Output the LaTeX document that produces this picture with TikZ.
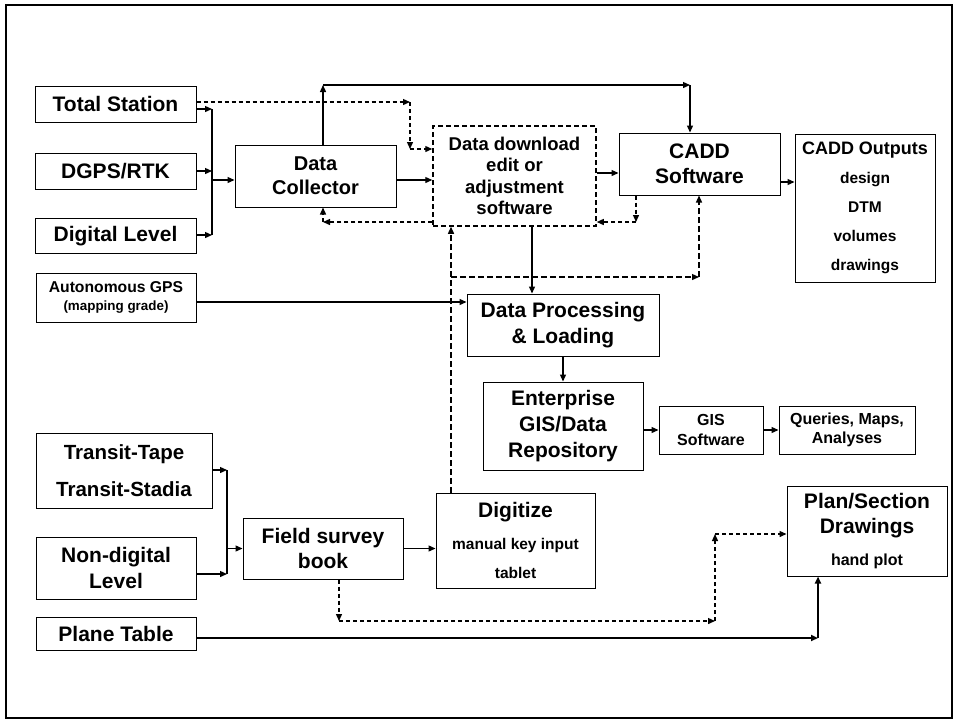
\documentclass[tikz,border=0pt]{standalone}
\usepackage{fontspec}
\setmainfont{Liberation Sans}
\usetikzlibrary{arrows.meta}
\begin{document}
\begin{tikzpicture}[x=1pt, y=-1pt,
	box/.style={draw, line width=1pt, align=center, inner sep=0pt, font=\bfseries\fontsize{21}{24}\selectfont},
	conn/.style={line width=1.3pt, -{Triangle[length=7pt,width=6pt]}},
	dconn/.style={conn, dash pattern=on 4pt off 3pt}]
	\useasboundingbox (0,0) rectangle (960,724);
	% 1. Outer frame
	\draw[line width=1.6pt] (6,5) rectangle (952,718);
	
	% 2. Digital instruments (top left)
	\node[box, minimum width=161, minimum height=36] (ts) at (115.5,104) {Total Station};
	\node[box, minimum width=161, minimum height=36] (dgps) at (115.5,171) {DGPS/RTK};
	\node[box, minimum width=161, minimum height=35] (dl) at (115.5,236) {Digital Level};
	\node[box, minimum width=160, minimum height=49, font=\bfseries\fontsize{15.7}{18.5}\selectfont] (gps) at (116,297.5) {Autonomous GPS\\{\fontsize{13.4}{15}\selectfont (mapping grade)}};
	\node[box, minimum width=161, minimum height=62, font=\bfseries\fontsize{20}{24}\selectfont] (dc) at (315.5,176) {Data\\Collector};
	\node[box, minimum width=163, minimum height=100, line width=1.5pt, dash pattern=on 5pt off 3pt, font=\bfseries\fontsize{18.5}{21.5}\selectfont] (dd) at (514.5,176) {Data download\\edit or\\adjustment\\software};
	\node[box, minimum width=161, minimum height=62, font=\bfseries\fontsize{21}{25.5}\selectfont] (cadd) at (699.5,164) {CADD\\Software};
	\node[box, minimum width=140, minimum height=148, font=\bfseries\fontsize{15.5}{29}\selectfont] (out) at (865,208) {{\fontsize{18}{20}\selectfont CADD Outputs}\\design\\DTM\\volumes\\drawings};
	
	% 3. Processing and GIS
	\node[box, minimum width=192, minimum height=62, font=\bfseries\fontsize{21}{26}\selectfont] (dp) at (563,325) {Data Processing\\\& Loading};
	\node[box, minimum width=160, minimum height=88, font=\bfseries\fontsize{21}{26}\selectfont] (egis) at (563,426) {Enterprise\\GIS/Data\\Repository};
	\node[box, minimum width=104, minimum height=48, font=\bfseries\fontsize{16}{19.5}\selectfont] (gis) at (711,430) {GIS\\Software};
	\node[box, minimum width=136, minimum height=48, font=\bfseries\fontsize{16}{19.5}\selectfont] (qry) at (847,430) {Queries, Maps,\\Analyses};
	
	% 4. Conventional instruments (bottom)
	\node[box, minimum width=176, minimum height=75, font=\bfseries\fontsize{20.5}{36.5}\selectfont] (tr) at (124,470.5) {Transit-Tape\\Transit-Stadia};
	\node[box, minimum width=160, minimum height=62, font=\bfseries\fontsize{21}{26.5}\selectfont] (ndl) at (116,568) {Non-digital\\Level};
	\node[box, minimum width=160, minimum height=33] (pt) at (116,633.5) {Plane Table};
	\node[box, minimum width=160, minimum height=61, font=\bfseries\fontsize{21}{24.5}\selectfont] (fsb) at (323,548.5) {Field survey\\book};
	\node[box, minimum width=159, minimum height=95, font=\bfseries\fontsize{15.5}{29}\selectfont] (dig) at (515.5,540.5) {{\fontsize{21}{24}\selectfont Digitize}\\[3pt]manual key input\\tablet};
	\node[box, minimum width=160, minimum height=90, font=\bfseries\fontsize{21}{25}\selectfont] (plan) at (867,531) {Plan/Section\\Drawings\\[7pt]{\fontsize{16}{19}\selectfont hand plot}};
	
	% 5. Junction points
	\coordinate (j1) at (212,109);
	\coordinate (j2) at (212,235);
	\coordinate (j3) at (227,470);
	\coordinate (j4) at (227,574);
	\coordinate (t1) at (323,85);
	\coordinate (t2) at (690,85);
	\coordinate (d1) at (410,102);
	\coordinate (d2) at (410,149);
	\coordinate (d3) at (323,222);
	\coordinate (d4) at (636,222);
	\coordinate (d5) at (451,277);
	\coordinate (d6) at (699,277);
	\coordinate (d7) at (339,621);
	\coordinate (d8) at (715,621);
	\coordinate (d9) at (715,534);
	\coordinate (p1) at (818,638);
	
	% 6. Solid connectors
	\draw[conn] (ts.east |- j1) -- (j1);
	\draw[conn] (dgps.east) -- (dgps.east -| j1);
	\draw[conn] (dl.east |- j2) -- (j2);
	\draw[line width=1.3pt] (j1) -- (j2);
	\draw[conn] ([yshift=-4pt]j1 |- dc) -- ([yshift=-4pt]dc.west);
	\draw[conn] (t1 |- dc.north) -- (t1);
	\draw[conn] (t1) -- (t2);
	\draw[conn] (t2) -- (t2 |- cadd.north);
	\draw[conn] ([yshift=-4pt]dc.east) -- ([yshift=-4pt]dd.west);
	\draw[conn] ([yshift=3pt]dd.east) -- ([yshift=3pt]dd.east -| cadd.west);
	\draw[conn] ([yshift=-18pt]cadd.east) -- ([yshift=-18pt]cadd.east -| out.west);
	\draw[conn] ([xshift=17.5pt]dd.south) -- ([xshift=17.5pt]dd.south |- dp.north);
	\draw[conn] ([yshift=-4.5pt]gps.east) -- ([yshift=-4.5pt]gps.east -| dp.west);
	\draw[conn] (dp.south) -- (egis.north);
	\draw[conn] (egis.east |- gis) -- (gis.west);
	\draw[conn] (gis.east) -- (qry.west);
	\draw[conn] (tr.east |- j3) -- (j3);
	\draw[conn] (ndl.east |- j4) -- (j4);
	\draw[line width=1.3pt] (j3) -- (j4);
	\draw[conn] (j3 |- fsb) -- (fsb.west);
	\draw[conn] (fsb.east) -- (fsb.east -| dig.west);
	\draw[conn, line width=2.2pt] (pt.east |- p1) -- (p1);
	\draw[conn, line width=2.2pt] (p1) -- (p1 |- plan.south);
	
	% 7. Dashed connectors
	\draw[dconn] (ts.east |- d1) -- (d1);
	\draw[dconn] (d1) -- (d2);
	\draw[dconn] (d2) -- (d2 -| dd.west);
	\draw[dconn] (dd.west |- d3) -- (d3);
	\draw[dconn] (d3) -- (d3 |- dc.south);
	\draw[dconn] (d4 |- cadd.south) -- (d4);
	\draw[dconn] (d4) -- (d4 -| dd.east);
	\draw[dconn, dash pattern=on 6pt off 3pt] (d5 |- dig.north) -- (d5 |- dd.south);
	\draw[dconn, dash pattern=on 6pt off 3pt] (d5) -- (d6);
	\draw[dconn, dash pattern=on 6pt off 3pt] (d6) -- (d6 |- cadd.south);
	\draw[dconn] (d7 |- fsb.south) -- (d7);
	\draw[dconn] (d7) -- (d8);
	\draw[dconn] (d8) -- (d9);
	\draw[dconn] (d9) -- (d9 -| plan.west);
\end{tikzpicture}
\end{document}
